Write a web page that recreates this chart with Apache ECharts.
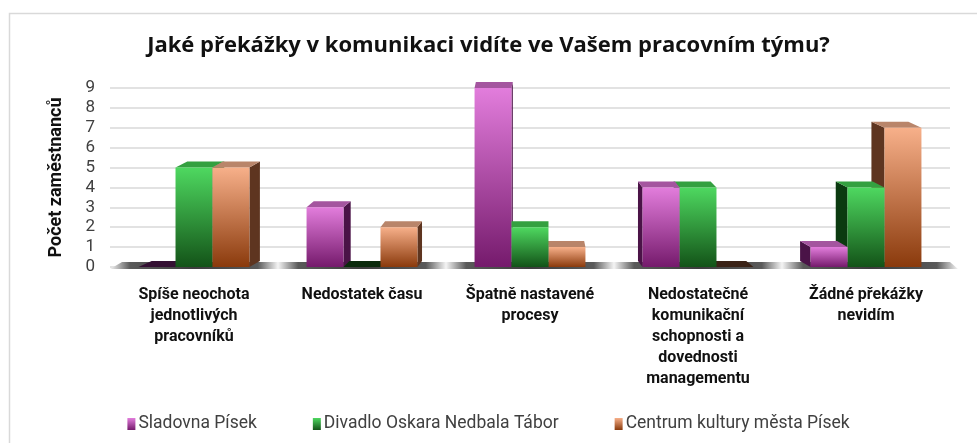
<!DOCTYPE html>
<html lang="cs">
<head>
    <meta charset="utf-8">
    <script src="https://cdn.jsdelivr.net/npm/echarts@6/dist/echarts.min.js"></script>
    <style>
        html, body { margin: 0; padding: 0; background: #fff; }
    </style>
</head>
<body>
<div id="main" style="width: 977px;height:443px;"></div>
<script type="text/javascript">
    // data
    var categories = [
        'Spíše neochota\njednotlivých\npracovníků',
        'Nedostatek času',
        'Špatně nastavené\nprocesy',
        'Nedostatečné\nkomunikační\nschopnosti a\ndovednosti\nmanagementu',
        'Žádné překážky\nnevidím'
    ];
    var seriesNames = ['Sladovna Písek', 'Divadlo Oskara Nedbala Tábor', 'Centrum kultury města Písek'];
    var sladovna = [0, 3, 9, 4, 1];
    var divadlo = [5, 0, 2, 4, 4];
    var centrum = [5, 2, 1, 0, 7];
    var yTicks = [0, 1, 2, 3, 4, 5, 6, 7, 8, 9];

    // colours: front top, front bottom, top face, side, zero patch
    var palette = [
        { hi: '#e27ddc', lo: '#751a6c', top: '#a4559f', side: '#4a1347', zero: '#341033' },
        { hi: '#4ed860', lo: '#135318', top: '#34a040', side: '#0b3a10', zero: '#0b2a0c' },
        { hi: '#f7b08a', lo: '#8a3a0c', top: '#b9856a', side: '#5e3520', zero: '#3a2216' }
    ];

    var myChart = echarts.init(document.getElementById('main'));

    var NB = 3;
    var centerX = 530;

    function barRender(si) {
        return function (params, api) {
            var idx = api.value(0);
            var val = api.value(1);
            var band = api.size([1, 0])[0];
            var bw = band * 0.22;
            var base = api.coord([idx, 0]);
            var topPt = api.coord([idx, val]);
            var x0 = base[0] - bw * NB / 2 + si * bw;
            var x1 = x0 + bw;
            var yB = base[1];
            var yT = topPt[1];
            var mid = (x0 + x1) / 2;
            var dx = (centerX - mid) * 0.035;
            var dy = 6;
            var c = palette[si];
            var z2 = mid < centerX ? si : 10 - si;
            var children = [];
            if (val === 0) {
                children.push({
                    type: 'polygon',
                    shape: { points: [[x0, yB], [x1, yB], [x1 + dx, yB - dy], [x0 + dx, yB - dy]] },
                    style: { fill: c.zero },
                    z2: z2
                });
                return { type: 'group', children: children };
            }
            // side face
            var sx = dx > 0 ? x1 : x0;
            children.push({
                type: 'polygon',
                shape: { points: [[sx, yB], [sx, yT], [sx + dx, yT - dy], [sx + dx, yB - dy]] },
                style: { fill: c.side },
                z2: z2
            });
            // top face
            children.push({
                type: 'polygon',
                shape: { points: [[x0, yT], [x1, yT], [x1 + dx, yT - dy], [x0 + dx, yT - dy]] },
                style: { fill: c.top },
                z2: z2
            });
            // front face
            children.push({
                type: 'rect',
                shape: { x: x0, y: yT, width: bw, height: yB - yT },
                style: {
                    fill: new echarts.graphic.LinearGradient(0, 0, 0, 1, [
                        { offset: 0, color: c.hi },
                        { offset: 0.5, color: echarts.color.lerp(0.5, [c.hi, c.lo]) },
                        { offset: 1, color: c.lo }
                    ])
                },
                z2: z2
            });
            return { type: 'group', children: children };
        };
    }

    function floorRender(params, api) {
        var idx = api.value(0);
        var band = api.size([1, 0])[0];
        var base = api.coord([idx, 0]);
        var x0 = base[0] - band / 2;
        var x1 = base[0] + band / 2;
        var yB = base[1] + 2;
        var first = idx === 0;
        var last = idx === categories.length - 1;
        return {
            type: 'polygon',
            shape: {
                points: [[x0, yB], [last ? x1 + 8 : x1, yB], [x1, yB - 7], [first ? x0 + 12 : x0, yB - 7]]
            },
            style: {
                fill: new echarts.graphic.LinearGradient(0, 0, 1, 0, [
                    { offset: 0, color: '#f4f4f4' },
                    { offset: 0.12, color: '#5a5a5a' },
                    { offset: 0.5, color: '#3c3c3c' },
                    { offset: 0.88, color: '#5a5a5a' },
                    { offset: 1, color: '#f4f4f4' }
                ])
            },
            z2: -5
        };
    }

    var allData = [sladovna, divadlo, centrum];
    var series = [{
        type: 'custom',
        name: 'floor',
        renderItem: floorRender,
        data: categories.map(function (c, i) { return [i, 0]; }),
        silent: true
    }];
    allData.forEach(function (arr, si) {
        series.push({
            type: 'custom',
            name: seriesNames[si],
            renderItem: barRender(si),
            itemStyle: { color: palette[si].lo },
            data: arr.map(function (v, i) { return [i, v]; }),
            encode: { x: 0, y: 1 }
        });
    });

    var option = {
        animation: false,
        title: {
            text: 'Jaké překážky v komunikaci vidíte ve Vašem pracovním týmu?',
            left: 'center',
            top: 30,
            textStyle: { fontFamily: 'Open Sans', fontWeight: 'bold', fontSize: 22, color: '#111' }
        },
        graphic: [{
            type: 'rect',
            shape: { x: 9.5, y: 13.5, width: 1000, height: 500 },
            style: { fill: 'none', stroke: '#d9d9d9', lineWidth: 1.5 },
            silent: true
        }],
        legend: {
            data: seriesNames.map(function (n, i) {
                return {
                    name: n,
                    itemStyle: {
                        color: new echarts.graphic.LinearGradient(0, 0, 0, 1, [
                            { offset: 0, color: palette[i].hi },
                            { offset: 1, color: palette[i].lo }
                        ])
                    }
                };
            }),
            bottom: 5,
            left: 'center',
            icon: 'rect',
            itemWidth: 8,
            itemHeight: 12,
            itemGap: 56,
            textStyle: { fontFamily: 'Roboto', fontSize: 17.5, color: '#404040', padding: [0, 0, 0, -2] }
        },
        grid: { left: 110, right: 27, top: 88, bottom: 176, containLabel: false },
        xAxis: {
            type: 'category',
            data: categories,
            axisLine: { show: false },
            axisTick: { show: false },
            axisLabel: {
                interval: 0,
                margin: 17,
                fontFamily: 'Roboto',
                fontWeight: 'bold',
                fontSize: 16,
                lineHeight: 21,
                color: '#111'
            }
        },
        yAxis: {
            type: 'value',
            min: yTicks[0],
            max: yTicks[yTicks.length - 1],
            interval: 1,
            name: 'Počet zaměstnanců',
            nameLocation: 'middle',
            nameGap: 45,
            nameTextStyle: { fontFamily: 'Roboto', fontWeight: 'bold', fontSize: 18, color: '#111' },
            axisLabel: { fontFamily: 'Roboto', fontSize: 17, color: '#404040', margin: 15 },
            splitLine: { lineStyle: { color: '#d9d9d9', width: 1.5 } }
        },
        series: series
    };
    myChart.setOption(option);
</script>
</body>
</html>
